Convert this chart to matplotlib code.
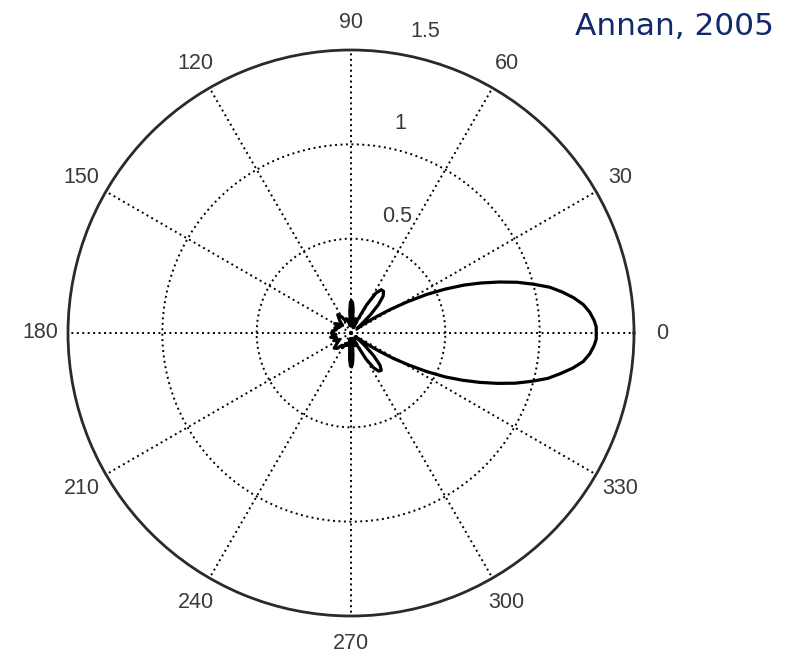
import numpy as np
import matplotlib
matplotlib.use("Agg")
import matplotlib.pyplot as plt

# ================= DATA =================
# angle in degrees, radius in plot units (outer ring = 1.5)
ANGLES = [
    -180, -174, -168, -162, -156, -150, -144, -138, -132, -126, -120, -114,
    -108, -102, -98, -95, -93, -91, -89, -87, -85, -83, -80, -76, -72, -68,
    -66, -63, -60, -57, -54, -51, -48, -45, -42, -39, -37, -35, -33, -31,
    -29, -27, -25, -23, -21, -19, -17, -15, -13, -11, -9, -7, -5, -3, -1.5,
    0, 1.5, 3, 5, 7, 9, 11, 13, 15, 17, 19, 21, 23, 25, 27, 29, 31, 33, 35,
    37, 40, 43, 46, 49, 52, 55, 58, 61, 64, 66, 69, 72, 76, 80, 83, 85, 87,
    89, 91, 93, 95, 98, 102, 108, 114, 120, 126, 132, 138, 144, 150, 156,
    162, 168, 174, 180,
]
RADII = [
    0.10, 0.08, 0.11, 0.08, 0.10, 0.07, 0.09, 0.12, 0.11, 0.08, 0.09, 0.06,
    0.07, 0.05, 0.03, 0.08, 0.14, 0.175, 0.18, 0.16, 0.12, 0.07, 0.03, 0.06,
    0.07, 0.04, 0.03, 0.08, 0.16, 0.22, 0.25, 0.255, 0.23, 0.17, 0.09, 0.03,
    0.05, 0.10, 0.17, 0.26, 0.35, 0.45, 0.55, 0.64, 0.73, 0.82, 0.91, 0.99,
    1.07, 1.13, 1.19, 1.24, 1.27, 1.29, 1.30,
    1.30, 1.30, 1.29, 1.27, 1.24, 1.195, 1.14, 1.08, 1.00, 0.92, 0.83, 0.74,
    0.65, 0.55, 0.45, 0.34, 0.24, 0.15, 0.08,
    0.04, 0.07, 0.14, 0.21, 0.26, 0.28, 0.28, 0.25, 0.17, 0.07, 0.03, 0.06,
    0.08, 0.05, 0.04, 0.08, 0.13, 0.16, 0.17, 0.165, 0.12, 0.06, 0.04, 0.06,
    0.08, 0.07, 0.10, 0.12, 0.09, 0.06, 0.08, 0.10, 0.07, 0.09, 0.08, 0.10,
    0.10,
]
THETA_LABELS = [0, 30, 60, 90, 120, 150, 180, 210, 240, 270, 300, 330]
R_TICKS = [0.5, 1.0]
R_MAX = 1.5
# radial labels: (text, angle deg, radius)
R_LABELS = [("0.5", 68.3, 0.664), ("1", 76.7, 1.142), ("1.5", 76.2, 1.648)]

TEXT_COLOR = "#3a3a3a"
TITLE_COLOR = "#12296b"

# ================= PLOTTING =================
fig = plt.figure(figsize=(7.9, 6.53), dpi=100, facecolor="white")
ax = fig.add_axes([68 / 790, 1 - (333 + 283) / 653, 566 / 790, 566 / 653],
                  projection="polar")

ax.plot(np.deg2rad(ANGLES), RADII, color="black", lw=2.3,
        solid_joinstyle="round", zorder=3)

ax.set_ylim(0, R_MAX)
ax.set_yticks(R_TICKS)
ax.set_xticks(np.deg2rad(THETA_LABELS))
ax.set_xticklabels([])
ax.set_yticklabels([])
ax.grid(True, color="black", lw=1.4, ls=(0, (1, 1.8)))
ax.spines["polar"].set_color("#2a2a2a")
ax.spines["polar"].set_linewidth(2.0)

for a in THETA_LABELS:
    ax.text(np.deg2rad(a), 1.648, str(a), ha="center", va="center",
            fontsize=15.5, family="Liberation Sans", color=TEXT_COLOR,
            clip_on=False)

for txt, a, r in R_LABELS:
    ax.text(np.deg2rad(a), r, txt, ha="center", va="center",
            fontsize=15.5, family="Liberation Sans", color=TEXT_COLOR,
            clip_on=False)

fig.text(575 / 790, 1 - 35 / 653, "Annan, 2005", ha="left", va="baseline",
         fontsize=22.5, family="DejaVu Sans", color=TITLE_COLOR)

fig.savefig("out.png", dpi=100, facecolor="white")
plt.close(fig)
